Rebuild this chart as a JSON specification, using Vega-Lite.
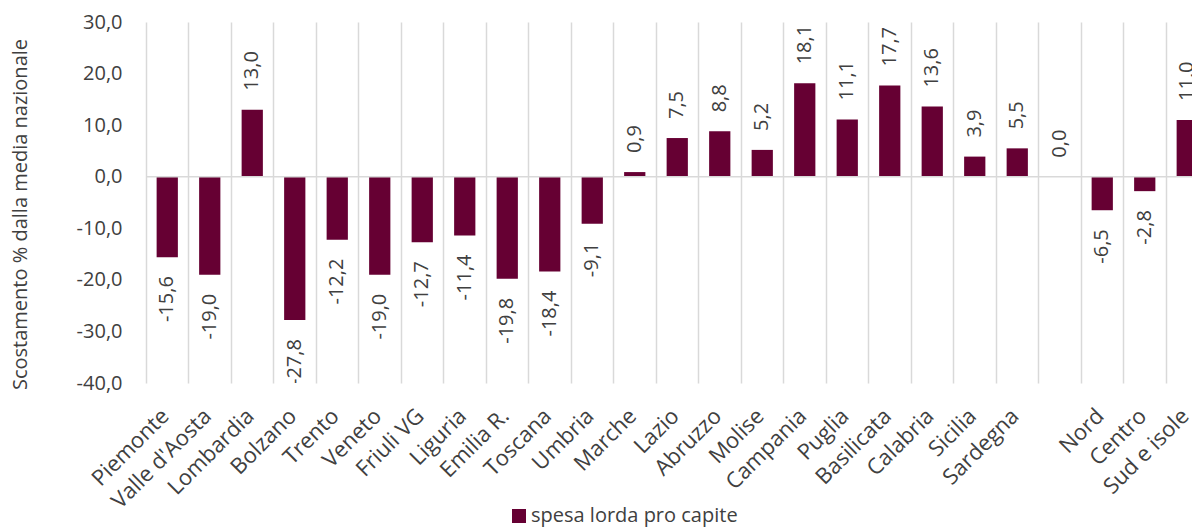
{
  "$schema": "https://vega.github.io/schema/vega-lite/v6.json",
  "autosize": {"type": "none"},
  "padding": {"left": 146, "top": 22, "right": 0, "bottom": 145},
  "width": 1046,
  "height": 361,
  "background": "white",
  "config": {
    "locale": {"number": {"decimal": ",", "thousands": ".", "grouping": [3], "currency": ["", " €"], "minus": "-"}},
    "view": {"stroke": null},
    "font": "Open Sans"
  },
  "data": {"values": [
    {"regione": "Piemonte", "valore": -15.6},
    {"regione": "Valle d'Aosta", "valore": -19.0},
    {"regione": "Lombardia", "valore": 13.0},
    {"regione": "Bolzano", "valore": -27.8},
    {"regione": "Trento", "valore": -12.2},
    {"regione": "Veneto", "valore": -19.0},
    {"regione": "Friuli VG", "valore": -12.7},
    {"regione": "Liguria", "valore": -11.4},
    {"regione": "Emilia R.", "valore": -19.8},
    {"regione": "Toscana", "valore": -18.4},
    {"regione": "Umbria", "valore": -9.1},
    {"regione": "Marche", "valore": 0.9},
    {"regione": "Lazio", "valore": 7.5},
    {"regione": "Abruzzo", "valore": 8.8},
    {"regione": "Molise", "valore": 5.2},
    {"regione": "Campania", "valore": 18.1},
    {"regione": "Puglia", "valore": 11.1},
    {"regione": "Basilicata", "valore": 17.7},
    {"regione": "Calabria", "valore": 13.6},
    {"regione": "Sicilia", "valore": 3.9},
    {"regione": "Sardegna", "valore": 5.5},
    {"regione": " ", "valore": 0.0},
    {"regione": "Nord", "valore": -6.5},
    {"regione": "Centro", "valore": -2.8},
    {"regione": "Sud e isole", "valore": 11.0}
  ]},
  "layer": [
    {
      "mark": {"type": "bar", "width": {"band": 0.5}, "clip": true},
      "encoding": {
        "x": {
          "field": "regione", "type": "nominal", "sort": null,
          "scale": {"range": [0, 1062.5], "paddingInner": 0, "paddingOuter": 0},
          "axis": {
            "title": null, "grid": true, "gridColor": "#d9d9d9", "gridWidth": 1.5,
            "bandPosition": 0, "labelOffset": -9, "domain": false, "ticks": false,
            "labelAngle": -45, "labelAlign": "right", "labelBaseline": "top",
            "labelPadding": 22, "labelFontSize": 22, "labelColor": "#404040",
            "labelOverlap": false, "labelBound": false
          }
        },
        "y": {
          "field": "valore", "type": "quantitative",
          "scale": {"domain": [-40, 30], "nice": false, "zero": false},
          "axis": {
            "title": "Scostamento % dalla media nazionale",
            "values": [-40, -30, -20, -10, 0, 10, 20, 30], "format": ".1f",
            "grid": false, "domain": false, "ticks": false,
            "labelPadding": 24, "labelFontSize": 20, "labelColor": "#404040",
            "titleFontSize": 20, "titleFontWeight": "normal", "titleColor": "#404040",
            "titleX": -126, "titleY": 192, "titleAlign": "center", "titleBaseline": "middle", "titleAngle": 270
          }
        },
        "color": {
          "datum": "spesa lorda pro capite",
          "scale": {"range": ["#660033"]},
          "legend": {
            "orient": "none", "legendX": 363, "legendY": 484, "title": null,
            "symbolType": "square", "symbolSize": 196, "symbolStrokeWidth": 0,
            "labelFontSize": 20, "labelColor": "#404040", "labelOffset": 2, "labelLimit": 0, "padding": 0
          }
        }
      }
    },
    {
      "data": {"values": [{}]},
      "mark": {"type": "rule", "color": "#d9d9d9", "strokeWidth": 1.5},
      "encoding": {"y": {"datum": 0, "type": "quantitative"}}
    },
    {
      "transform": [{"filter": "datum.valore >= 0"}],
      "mark": {"type": "text", "angle": 270, "align": "left", "baseline": "middle", "dx": 19, "fontSize": 20, "color": "#404040", "clip": true},
      "encoding": {
        "x": {"field": "regione", "type": "nominal", "sort": null},
        "y": {"field": "valore", "type": "quantitative"},
        "text": {"field": "valore", "type": "quantitative", "format": ".1f"}
      }
    },
    {
      "transform": [{"filter": "datum.valore < 0"}],
      "mark": {"type": "text", "angle": 270, "align": "right", "baseline": "middle", "dx": -19, "fontSize": 20, "color": "#404040", "clip": true},
      "encoding": {
        "x": {"field": "regione", "type": "nominal", "sort": null},
        "y": {"field": "valore", "type": "quantitative"},
        "text": {"field": "valore", "type": "quantitative", "format": ".1f"}
      }
    }
  ]
}
